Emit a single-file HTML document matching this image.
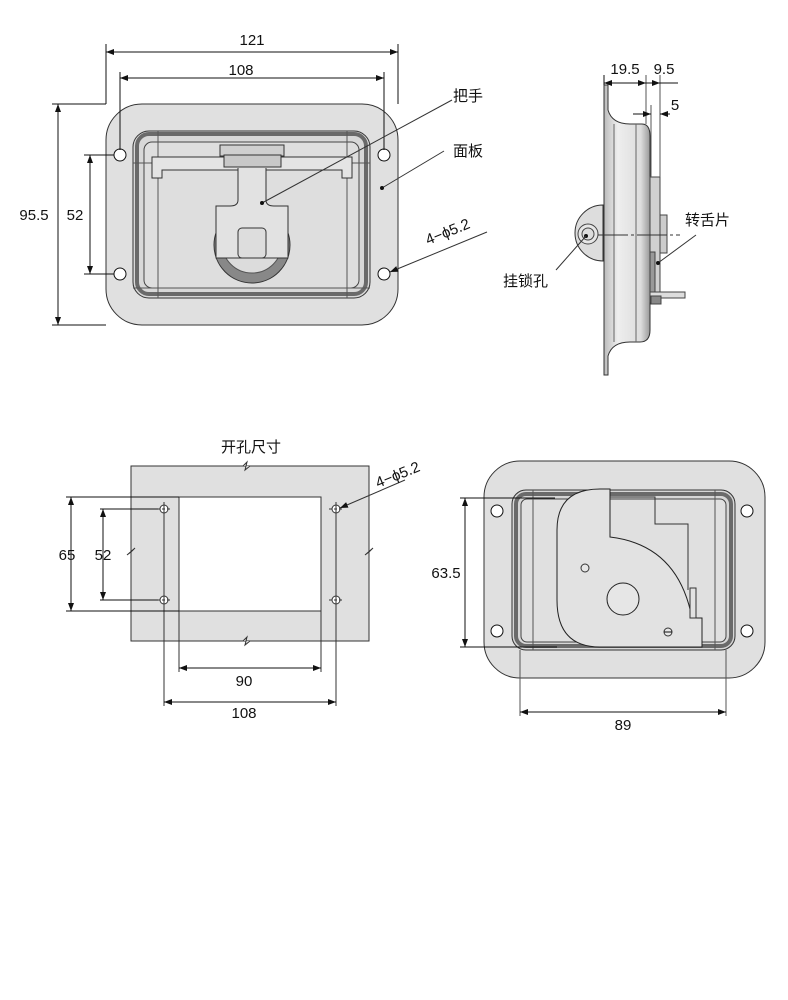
<!DOCTYPE html>
<html><head><meta charset="utf-8"><style>
html,body{margin:0;padding:0;background:#fff;}
svg{display:block}
text{font-family:"Liberation Sans","Noto Sans CJK SC",sans-serif;fill:#111;}
</style></head><body>
<svg width="788" height="1000" viewBox="0 0 788 1000" xmlns="http://www.w3.org/2000/svg">
<defs>
<marker id="a" markerWidth="8" markerHeight="6" refX="8" refY="3" orient="auto-start-reverse" markerUnits="userSpaceOnUse"><path d="M0,0 L8,3 L0,6 z" fill="#111"/></marker>
<linearGradient id="gv" x1="0" x2="1"><stop offset="0" stop-color="#bbb"/><stop offset=".3" stop-color="#eee"/><stop offset=".8" stop-color="#ddd"/><stop offset="1" stop-color="#999"/></linearGradient>
</defs>
<g fill="none" stroke="#111" stroke-width="1">
<rect x="106" y="104" width="292" height="221" rx="36" fill="#e0e0e0" stroke="#333"/>
<rect x="133" y="131" width="237" height="167" rx="16" fill="#d8d8d8" stroke="#333"/>
<rect x="137" y="134" width="229" height="160" rx="12" fill="none" stroke="#222" stroke-width="4" opacity=".6"/>
<rect x="144" y="142" width="215" height="146" rx="8" fill="#dedede" stroke="#444"/>
<line x1="158" y1="131" x2="158" y2="298" stroke="#555"/>
<line x1="347" y1="131" x2="347" y2="298" stroke="#555"/>
<line x1="133" y1="163" x2="370" y2="163" stroke="#555"/>
<line x1="133" y1="288" x2="370" y2="288" stroke="#555"/>
<path d="M152,157 L352,157 L352,178 L342,178 L342,170 L162,170 L162,178 L152,178 Z" fill="#e4e4e4" stroke="#333"/>
<rect x="220" y="145" width="64" height="11" fill="#cfcfcf" stroke="#333"/>
<rect x="224" y="155" width="57" height="12" fill="#c8c8c8" stroke="#333"/>
<circle cx="252" cy="245" r="38" fill="#888" stroke="#333"/>
<circle cx="252" cy="243" r="30" fill="#dcdcdc" stroke="#555"/>
<path d="M238,168 L238,200 Q238,206 230,206 L216,206 L216,258 L288,258 L288,206 L274,206 Q266,206 266,200 L266,168" fill="#e2e2e2" stroke="#333"/>
<rect x="238" y="228" width="28" height="30" rx="4" fill="#ddd" stroke="#333"/>
<circle cx="120" cy="155" r="6" fill="#fff"/><circle cx="384" cy="155" r="6" fill="#fff"/>
<circle cx="120" cy="274" r="6" fill="#fff"/><circle cx="384" cy="274" r="6" fill="#fff"/>
<line x1="106" y1="44" x2="106" y2="104"/><line x1="398" y1="44" x2="398" y2="104"/>
<line x1="106" y1="52" x2="398" y2="52" marker-start="url(#a)" marker-end="url(#a)"/>
<line x1="120" y1="72" x2="120" y2="150"/><line x1="384" y1="72" x2="384" y2="150"/>
<line x1="120" y1="78" x2="384" y2="78" marker-start="url(#a)" marker-end="url(#a)"/>
<line x1="52" y1="104" x2="106" y2="104"/><line x1="52" y1="325" x2="106" y2="325"/>
<line x1="58" y1="104" x2="58" y2="325" marker-start="url(#a)" marker-end="url(#a)"/>
<line x1="84" y1="155" x2="114" y2="155"/><line x1="84" y1="274" x2="114" y2="274"/>
<line x1="90" y1="155" x2="90" y2="274" marker-start="url(#a)" marker-end="url(#a)"/>
<line x1="262" y1="203" x2="452" y2="100" stroke="#333"/><circle cx="262" cy="203" r="1.5" fill="#111"/>
<line x1="382" y1="188" x2="444" y2="151" stroke="#333"/><circle cx="382" cy="188" r="1.5" fill="#111"/>
<line x1="390" y1="272" x2="487" y2="232" stroke="#333" marker-start="url(#a)"/>

<path d="M604,85 L608,85 L608,110 Q612,124 630,124 L642,124 Q650,124 650,136 L650,330 Q650,342 640,342 L630,342 Q612,342 608,356 L608,375 L604,375 Z" fill="url(#gv)" stroke="#333"/>
<line x1="614" y1="124" x2="614" y2="342" stroke="#666"/>
<line x1="636" y1="124" x2="636" y2="342" stroke="#666"/>
<path d="M603,205 A28,28 0 0 0 603,261 Z" fill="#ddd" stroke="#333"/>
<circle cx="588" cy="234" r="10" fill="#e6e6e6" stroke="#444"/><circle cx="588" cy="234" r="6" fill="#ddd" stroke="#444"/>
<circle cx="586" cy="236" r="1.5" fill="#111"/>
<rect x="650" y="177" width="10" height="125" fill="#d0d0d0" stroke="#444"/>
<rect x="660" y="215" width="7" height="38" fill="#ccc" stroke="#444"/>
<rect x="650" y="252" width="5" height="50" fill="#999" stroke="#444"/>
<rect x="650" y="292" width="35" height="6" fill="#ddd" stroke="#444"/>
<rect x="651" y="296" width="10" height="8" fill="#888" stroke="#444"/>
<line x1="598" y1="235" x2="680" y2="235" stroke="#333" stroke-dasharray="30,3,3,3"/>
<line x1="604" y1="75" x2="604" y2="85"/><line x1="646" y1="75" x2="646" y2="124" stroke="#555"/>
<line x1="660" y1="75" x2="660" y2="177" stroke="#555"/><line x1="651" y1="105" x2="651" y2="177" stroke="#555"/>
<line x1="604" y1="83" x2="646" y2="83" marker-start="url(#a)" marker-end="url(#a)"/>
<line x1="646" y1="83" x2="678" y2="83"/><line x1="654" y1="83" x2="660" y2="83" marker-end="url(#a)"/>
<line x1="633" y1="114" x2="651" y2="114" marker-end="url(#a)"/>
<line x1="660" y1="114" x2="670" y2="114"/><line x1="670" y1="114" x2="660" y2="114" marker-end="url(#a)"/>
<line x1="658" y1="263" x2="696" y2="235" stroke="#333"/><circle cx="658" cy="263" r="1.5" fill="#111"/>
<line x1="586" y1="236" x2="556" y2="270" stroke="#333"/>

<rect x="131" y="466" width="238" height="175" fill="#e0e0e0" stroke="#333"/>
<rect x="179" y="497" width="142" height="114" fill="#fff" stroke="#333"/>
<path d="M243,466 L247,462 L245,470 L250,466" fill="#e0e0e0" stroke="#333"/>
<path d="M243,641 L247,637 L245,645 L250,641" fill="#e0e0e0" stroke="#333"/>
<path d="M131,552 L135,548 L127,555 L131,552" stroke="#333"/>
<path d="M369,552 L373,548 L365,555 L369,552" stroke="#333"/>
<g stroke="#333">
<circle cx="164" cy="509" r="4" fill="#fff"/><circle cx="336" cy="509" r="4" fill="#fff"/>
<circle cx="164" cy="600" r="4" fill="#fff"/><circle cx="336" cy="600" r="4" fill="#fff"/>
<line x1="157" y1="509" x2="171" y2="509" stroke-dasharray="3,2"/><line x1="329" y1="509" x2="343" y2="509" stroke-dasharray="3,2"/>
<line x1="157" y1="600" x2="171" y2="600" stroke-dasharray="3,2"/><line x1="329" y1="600" x2="343" y2="600" stroke-dasharray="3,2"/>
<line x1="164" y1="502" x2="164" y2="706"/><line x1="336" y1="502" x2="336" y2="706"/>
<line x1="179" y1="611" x2="179" y2="672"/><line x1="321" y1="611" x2="321" y2="672"/>
</g>
<line x1="66" y1="497" x2="179" y2="497"/><line x1="66" y1="611" x2="179" y2="611"/>
<line x1="71" y1="497" x2="71" y2="611" marker-start="url(#a)" marker-end="url(#a)"/>
<line x1="100" y1="509" x2="158" y2="509"/><line x1="100" y1="600" x2="158" y2="600"/>
<line x1="103" y1="509" x2="103" y2="600" marker-start="url(#a)" marker-end="url(#a)"/>
<line x1="179" y1="668" x2="321" y2="668" marker-start="url(#a)" marker-end="url(#a)"/>
<line x1="164" y1="702" x2="336" y2="702" marker-start="url(#a)" marker-end="url(#a)"/>
<line x1="340" y1="508" x2="405" y2="480" stroke="#333" marker-start="url(#a)"/>

<rect x="484" y="461" width="281" height="217" rx="36" fill="#e0e0e0" stroke="#333"/>
<rect x="512" y="490" width="223" height="160" rx="14" fill="#d6d6d6" stroke="#333"/>
<rect x="516" y="494" width="215" height="152" rx="10" fill="none" stroke="#222" stroke-width="4" opacity=".6"/>
<rect x="521" y="499" width="205" height="143" rx="6" fill="#e0e0e0" stroke="#444"/>
<line x1="533" y1="490" x2="533" y2="650" stroke="#555"/><line x1="715" y1="490" x2="715" y2="650" stroke="#555"/>
<line x1="520" y1="650" x2="520" y2="716" stroke="#555"/><line x1="726" y1="650" x2="726" y2="716" stroke="#555"/>
<path d="M610,497 L655,497 L655,524 L688,524 L688,590" stroke="#333"/>
<path d="M610,489 L610,537 Q678,545 692,618 L702,618 L702,647 L600,647 Q557,647 557,600 L557,530 Q557,489 600,489 Z" fill="#e2e2e2" stroke="#222"/>
<rect x="690" y="588" width="6" height="30" fill="#e2e2e2" stroke="#333"/>
<circle cx="623" cy="599" r="16" fill="#e6e6e6" stroke="#222"/>
<circle cx="585" cy="568" r="4" fill="#e6e6e6" stroke="#333"/>
<circle cx="668" cy="632" r="4" fill="#e6e6e6" stroke="#333"/><line x1="664" y1="632" x2="672" y2="632"/>
<circle cx="497" cy="511" r="6" fill="#fff"/><circle cx="747" cy="511" r="6" fill="#fff"/>
<circle cx="497" cy="631" r="6" fill="#fff"/><circle cx="747" cy="631" r="6" fill="#fff"/>
<line x1="460" y1="498" x2="555" y2="498"/><line x1="460" y1="647" x2="557" y2="647"/>
<line x1="465" y1="498" x2="465" y2="647" marker-start="url(#a)" marker-end="url(#a)"/>
<line x1="520" y1="712" x2="726" y2="712" marker-start="url(#a)" marker-end="url(#a)"/>
</g>
<g font-size="15">
<text x="252" y="45" text-anchor="middle">121</text>
<text x="241" y="75" text-anchor="middle">108</text>
<text x="34" y="220" text-anchor="middle">95.5</text>
<text x="75" y="220" text-anchor="middle">52</text>
<text x="453" y="101">把手</text>
<text x="453" y="156">面板</text>
<text x="0" y="0" transform="translate(428,245) rotate(-22)">4−ϕ5.2</text>
<text x="625" y="74" text-anchor="middle">19.5</text>
<text x="664" y="74" text-anchor="middle">9.5</text>
<text x="675" y="110" text-anchor="middle">5</text>
<text x="685" y="225">转舌片</text>
<text x="503" y="286">挂锁孔</text>
<text x="251" y="452" text-anchor="middle">开孔尺寸</text>
<text x="0" y="0" transform="translate(378,488) rotate(-22)">4−ϕ5.2</text>
<text x="67" y="560" text-anchor="middle">65</text>
<text x="103" y="560" text-anchor="middle">52</text>
<text x="244" y="686" text-anchor="middle">90</text>
<text x="244" y="718" text-anchor="middle">108</text>
<text x="446" y="578" text-anchor="middle">63.5</text>
<text x="623" y="730" text-anchor="middle">89</text>
</g>
</svg>
</body></html>
